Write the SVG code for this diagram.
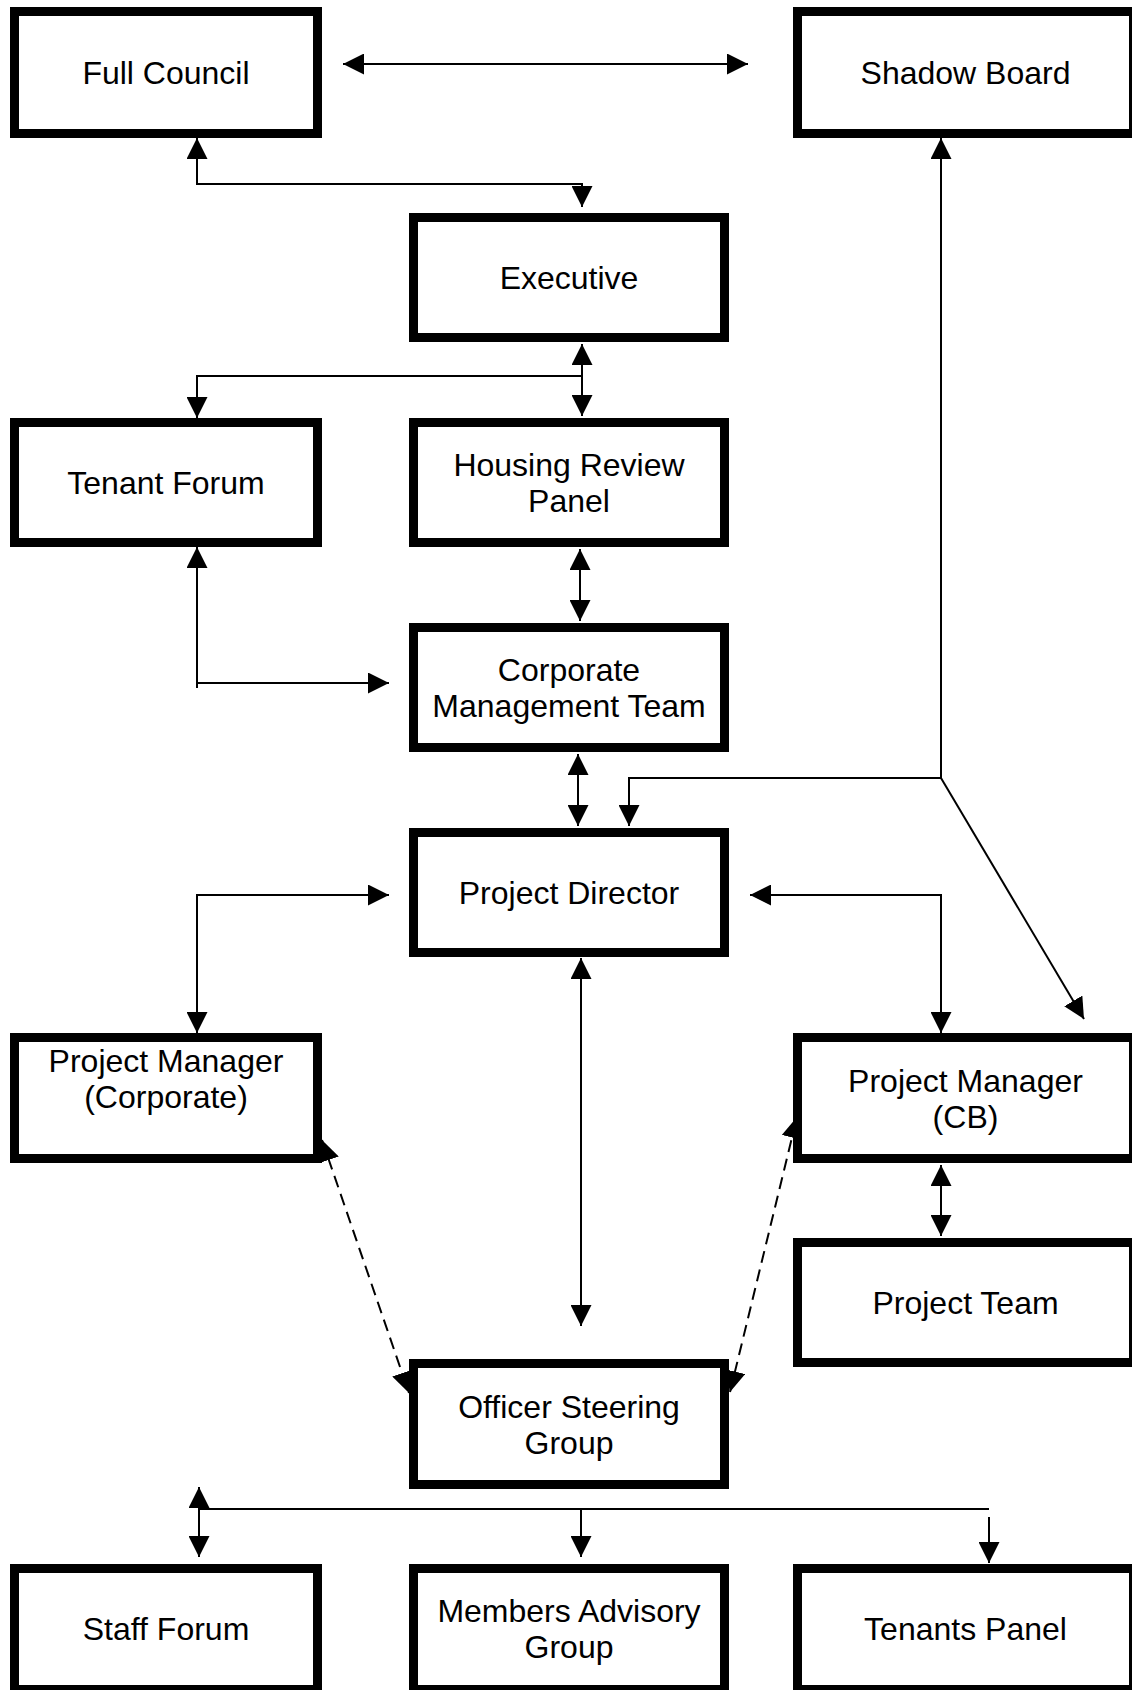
<svg xmlns="http://www.w3.org/2000/svg" width="1132" height="1690" viewBox="0 0 1132 1690">
<style>
.box rect{fill:#fff;stroke:#000;stroke-width:9}
.box text{font-family:"Liberation Sans",Arial,sans-serif;font-size:32px;fill:#000;text-anchor:middle}
.c{fill:none;stroke:#000;stroke-width:2}
.d{stroke-dasharray:12 7}
.ab{marker-start:url(#ah);marker-end:url(#ah)}
.ae{marker-end:url(#ah)}
</style>
<defs>
<marker id="ah" viewBox="0 0 21 21" refX="21" refY="10.5" markerWidth="21" markerHeight="21" markerUnits="userSpaceOnUse" orient="auto-start-reverse">
<path d="M0,0 L21,10.5 L0,21 z" fill="#000"/>
</marker>
</defs>
<rect width="1132" height="1690" fill="#fff"/>
<g id="connectors">
<line class="c ab" x1="343" y1="64" x2="748" y2="64"/>
<path class="c ab" d="M197,138 V184 H582 V207"/>
<line class="c ab" x1="582" y1="344" x2="582" y2="416"/>
<path class="c ae" d="M582,376 H197 V418"/>
<line class="c ab" x1="580" y1="549" x2="580" y2="621"/>
<path class="c" d="M197,683 V688"/>
<path class="c ab" d="M197,547 V683 H389"/>
<line class="c ab" x1="578" y1="754" x2="578" y2="826"/>
<path class="c ab" d="M941,138 V778 H629 V826"/>
<line class="c ae" x1="941" y1="778" x2="1084" y2="1019"/>
<path class="c ab" d="M389,895 H197 V1033"/>
<path class="c ab" d="M750,895 H941 V1033"/>
<line class="c ab" x1="581" y1="958" x2="581" y2="1326"/>
<line class="c ab" x1="941" y1="1165" x2="941" y2="1236"/>
<line class="c d ab" x1="322" y1="1140" x2="409" y2="1393"/>
<line class="c d ab" x1="730" y1="1392" x2="797" y2="1117"/>
<line class="c" x1="199" y1="1509" x2="989" y2="1509"/>
<line class="c ab" x1="199" y1="1487" x2="199" y2="1557"/>
<line class="c ae" x1="581" y1="1509" x2="581" y2="1557"/>
<line class="c ae" x1="989" y1="1517" x2="989" y2="1563"/>
</g>
<g id="full-council" class="box"><rect x="14.5" y="11.5" width="303" height="122"/><text x="166" y="84">Full Council</text></g>
<g id="shadow-board" class="box"><rect x="797.5" y="11.5" width="336" height="122"/><text x="965.5" y="84">Shadow Board</text></g>
<g id="executive" class="box"><rect x="413.5" y="217.5" width="311" height="120"/><text x="569" y="289">Executive</text></g>
<g id="tenant-forum" class="box"><rect x="14.5" y="422.5" width="303" height="120"/><text x="166" y="494">Tenant Forum</text></g>
<g id="housing-review-panel" class="box"><rect x="413.5" y="422.5" width="311" height="120"/><text x="569" y="476">Housing Review</text><text x="569" y="512">Panel</text></g>
<g id="corporate-management-team" class="box"><rect x="413.5" y="627.5" width="311" height="120"/><text x="569" y="681">Corporate</text><text x="569" y="717">Management Team</text></g>
<g id="project-director" class="box"><rect x="413.5" y="832.5" width="311" height="120"/><text x="569" y="904">Project Director</text></g>
<g id="project-manager-corporate" class="box"><rect x="14.5" y="1037.5" width="303" height="121"/><text x="166" y="1071.5">Project Manager</text><text x="166" y="1107.5">(Corporate)</text></g>
<g id="project-manager-cb" class="box"><rect x="797.5" y="1037.5" width="336" height="121"/><text x="965.5" y="1091.5">Project Manager</text><text x="965.5" y="1127.5">(CB)</text></g>
<g id="project-team" class="box"><rect x="797.5" y="1242.5" width="336" height="120"/><text x="965.5" y="1314">Project Team</text></g>
<g id="officer-steering-group" class="box"><rect x="413.5" y="1363.5" width="311" height="121"/><text x="569" y="1417.5">Officer Steering</text><text x="569" y="1453.5">Group</text></g>
<g id="staff-forum" class="box"><rect x="14.5" y="1568.5" width="303" height="121"/><text x="166" y="1640">Staff Forum</text></g>
<g id="members-advisory-group" class="box"><rect x="413.5" y="1568.5" width="311" height="121"/><text x="569" y="1622">Members Advisory</text><text x="569" y="1658">Group</text></g>
<g id="tenants-panel" class="box"><rect x="797.5" y="1568.5" width="336" height="121"/><text x="965.5" y="1640">Tenants Panel</text></g>
</svg>
